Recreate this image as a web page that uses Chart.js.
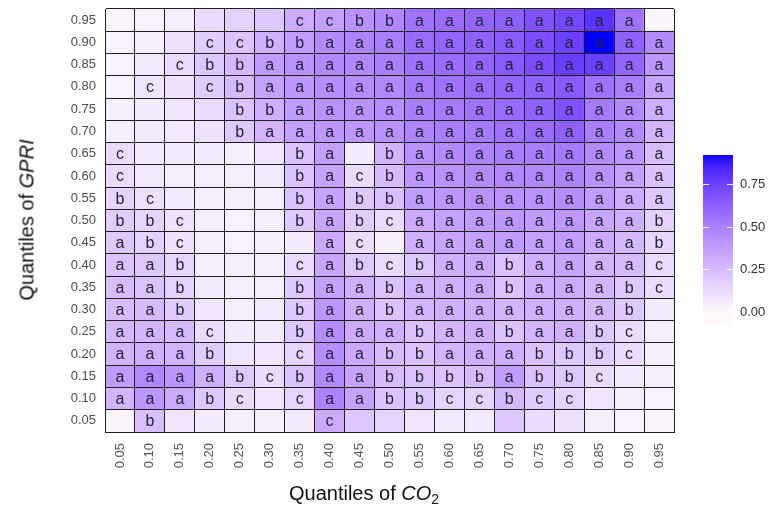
<!DOCTYPE html>
<html><head><meta charset="utf-8">
<script src="https://cdn.jsdelivr.net/npm/chart.js@4"></script>
<style>
html,body{margin:0;padding:0;background:#fff;}
#wrap{position:relative;width:771px;height:516px;overflow:hidden;}
canvas{position:absolute;left:0;top:0;}
.xt{position:absolute;left:289px;top:482px;font:20px "Liberation Sans",Arial,sans-serif;color:#111;white-space:nowrap;}
.xt sub{font-size:14px;vertical-align:-4px;line-height:0;}
.yt{position:absolute;left:27px;top:220px;font:20px "Liberation Sans",Arial,sans-serif;color:#111;white-space:nowrap;transform:translate(-50%,-50%) rotate(-90deg);}
</style></head><body>
<div id="wrap"><canvas id="c" width="771" height="516"></canvas>
<div class="xt">Quantiles of <i>CO</i><sub>2</sub></div>
<div class="yt">Quantiles of <i>GPRI</i></div>
</div>
<script>
const xLabels = ['0.05','0.10','0.15','0.20','0.25','0.30','0.35','0.40','0.45','0.50','0.55','0.60','0.65','0.70','0.75','0.80','0.85','0.90','0.95'];
const yLabels = ['0.05','0.10','0.15','0.20','0.25','0.30','0.35','0.40','0.45','0.50','0.55','0.60','0.65','0.70','0.75','0.80','0.85','0.90','0.95'];
const legendTicks = [0, 0.25, 0.5, 0.75];

// cell values per GPRI quantile row (columns follow xLabels)
const v95 = [0.02,0.03,0.05,0.12,0.16,0.20,0.32,0.36,0.42,0.46,0.55,0.58,0.60,0.62,0.68,0.72,0.80,0.55,0.01];
const v90 = [0.03,0.05,0.10,0.18,0.22,0.30,0.38,0.45,0.48,0.50,0.58,0.60,0.62,0.65,0.70,0.75,0.92,0.62,0.45];
const v85 = [0.03,0.06,0.12,0.20,0.26,0.38,0.42,0.46,0.46,0.50,0.55,0.58,0.60,0.65,0.70,0.76,0.75,0.60,0.40];
const v80 = [0.03,0.08,0.10,0.18,0.25,0.36,0.40,0.44,0.44,0.46,0.52,0.55,0.58,0.60,0.62,0.65,0.55,0.50,0.35];
const v75 = [0.04,0.06,0.08,0.12,0.22,0.30,0.38,0.42,0.42,0.44,0.50,0.52,0.55,0.58,0.62,0.68,0.52,0.45,0.30];
const v70 = [0.04,0.06,0.07,0.10,0.20,0.28,0.36,0.40,0.40,0.42,0.48,0.50,0.52,0.55,0.58,0.62,0.50,0.45,0.28];
const v65 = [0.12,0.06,0.06,0.06,0.05,0.08,0.22,0.36,0.06,0.28,0.42,0.45,0.48,0.50,0.50,0.52,0.45,0.40,0.24];
const v60 = [0.12,0.06,0.05,0.05,0.04,0.06,0.22,0.35,0.12,0.25,0.40,0.42,0.45,0.46,0.46,0.48,0.42,0.36,0.22];
const v55 = [0.15,0.10,0.06,0.05,0.04,0.05,0.22,0.35,0.20,0.24,0.38,0.40,0.42,0.42,0.42,0.44,0.38,0.32,0.20];
const v50 = [0.18,0.15,0.10,0.05,0.03,0.05,0.20,0.34,0.18,0.12,0.32,0.36,0.38,0.40,0.38,0.40,0.34,0.30,0.16];
const v45 = [0.20,0.16,0.10,0.04,0.03,0.04,0.06,0.32,0.12,0.05,0.30,0.34,0.36,0.38,0.36,0.38,0.32,0.26,0.15];
const v40 = [0.22,0.20,0.15,0.05,0.04,0.05,0.12,0.34,0.20,0.12,0.20,0.30,0.32,0.22,0.30,0.34,0.28,0.25,0.12];
const v35 = [0.24,0.22,0.16,0.06,0.04,0.05,0.20,0.36,0.30,0.22,0.28,0.30,0.32,0.22,0.30,0.32,0.28,0.20,0.12];
const v30 = [0.25,0.25,0.18,0.08,0.05,0.06,0.20,0.40,0.30,0.22,0.28,0.30,0.30,0.28,0.30,0.30,0.26,0.20,0.06];
const v25 = [0.26,0.28,0.25,0.12,0.06,0.06,0.20,0.44,0.32,0.30,0.22,0.28,0.30,0.22,0.28,0.30,0.20,0.12,0.05];
const v20 = [0.28,0.30,0.28,0.18,0.08,0.08,0.15,0.44,0.32,0.25,0.22,0.28,0.30,0.30,0.22,0.20,0.18,0.12,0.05];
const v15 = [0.38,0.46,0.40,0.30,0.20,0.12,0.22,0.46,0.35,0.25,0.22,0.22,0.25,0.38,0.22,0.20,0.12,0.06,0.04];
const v10 = [0.28,0.40,0.32,0.20,0.12,0.08,0.15,0.48,0.35,0.22,0.20,0.15,0.15,0.26,0.18,0.15,0.08,0.05,0.03];
const v05 = [0.02,0.24,0.08,0.06,0.04,0.04,0.06,0.32,0.20,0.15,0.08,0.06,0.06,0.20,0.12,0.10,0.04,0.03,0.02];

// significance letters per row
const g95 = ['','','','','','','c','c','b','b','a','a','a','a','a','a','a','a',''];
const g90 = ['','','','c','c','b','b','a','a','a','a','a','a','a','a','a','a','a','a'];
const g85 = ['','','c','b','b','a','a','a','a','a','a','a','a','a','a','a','a','a','a'];
const g80 = ['','c','','c','b','a','a','a','a','a','a','a','a','a','a','a','a','a','a'];
const g75 = ['','','','','b','b','a','a','a','a','a','a','a','a','a','a','a','a','a'];
const g70 = ['','','','','b','a','a','a','a','a','a','a','a','a','a','a','a','a','a'];
const g65 = ['c','','','','','','b','a','','b','a','a','a','a','a','a','a','a','a'];
const g60 = ['c','','','','','','b','a','c','b','a','a','a','a','a','a','a','a','a'];
const g55 = ['b','c','','','','','b','a','b','b','a','a','a','a','a','a','a','a','a'];
const g50 = ['b','b','c','','','','b','a','b','c','a','a','a','a','a','a','a','a','b'];
const g45 = ['a','b','c','','','','','a','c','','a','a','a','a','a','a','a','a','b'];
const g40 = ['a','a','b','','','','c','a','b','c','b','a','a','b','a','a','a','a','c'];
const g35 = ['a','a','b','','','','b','a','a','b','a','a','a','b','a','a','a','b','c'];
const g30 = ['a','a','b','','','','b','a','a','b','a','a','a','a','a','a','a','b',''];
const g25 = ['a','a','a','c','','','b','a','a','a','b','a','a','b','a','a','b','c',''];
const g20 = ['a','a','a','b','','','c','a','a','b','b','a','a','a','b','b','b','c',''];
const g15 = ['a','a','a','a','b','c','b','a','a','b','b','b','b','a','b','b','c','',''];
const g10 = ['a','a','a','b','c','','c','a','a','b','b','c','c','b','c','c','','',''];
const g05 = ['','b','','','','','','c','','','','','','','','','','',''];

const rowValues = [v05,v10,v15,v20,v25,v30,v35,v40,v45,v50,v55,v60,v65,v70,v75,v80,v85,v90,v95];
const rowLetters = [g05,g10,g15,g20,g25,g30,g35,g40,g45,g50,g55,g60,g65,g70,g75,g80,g85,g90,g95];

const CMIN = 0, CMAX = 0.92;
// Lab interpolation white -> blue (ggplot-like)
function srgb2lin(c){c/=255;return c<=0.04045?c/12.92:Math.pow((c+0.055)/1.055,2.4);}
function lin2srgb(c){c=Math.max(0,Math.min(1,c));return Math.round(255*(c<=0.0031308?12.92*c:1.055*Math.pow(c,1/2.4)-0.055));}
function rgb2lab(r,g,b){r=srgb2lin(r);g=srgb2lin(g);b=srgb2lin(b);
 let X=(0.4124*r+0.3576*g+0.1805*b)/0.95047,Y=(0.2126*r+0.7152*g+0.0722*b),Z=(0.0193*r+0.1192*g+0.9505*b)/1.08883;
 const f=t=>t>0.008856?Math.cbrt(t):7.787*t+16/116; const fx=f(X),fy=f(Y),fz=f(Z);
 return [116*fy-16,500*(fx-fy),200*(fy-fz)];}
function lab2rgb(L,a,b){const fy=(L+16)/116,fx=fy+a/500,fz=fy-b/200;
 const fi=t=>t*t*t>0.008856?t*t*t:(t-16/116)/7.787;
 const X=fi(fx)*0.95047,Y=fi(fy),Z=fi(fz)*1.08883;
 const r=3.2406*X-1.5372*Y-0.4986*Z,g=-0.9689*X+1.8758*Y+0.0415*Z,bb=0.0557*X-0.2040*Y+1.0570*Z;
 return [lin2srgb(r),lin2srgb(g),lin2srgb(bb)];}
const LOW = rgb2lab(253,249,252), HIGH = rgb2lab(0,0,255);
function colorFor(v){let t=(v-CMIN)/(CMAX-CMIN);t=Math.max(0,Math.min(1,t));
 const c=lab2rgb(LOW[0]+(HIGH[0]-LOW[0])*t,LOW[1]+(HIGH[1]-LOW[1])*t,LOW[2]+(HIGH[2]-LOW[2])*t);
 return 'rgb('+c[0]+','+c[1]+','+c[2]+')';}

const datasets = rowValues.map((vals,i)=>({
  data: xLabels.map(()=>[i-0.5,i+0.5]),
  backgroundColor: vals.map(colorFor),
  borderWidth: 0,
  grouped: false,
  barPercentage: 1,
  categoryPercentage: 1
}));

const FONT = '"Liberation Sans", Arial, sans-serif';

const letterPlugin = {
  id:'letters',
  afterDatasetsDraw(chart){
    const ctx=chart.ctx; ctx.save();
    ctx.font='16px '+FONT; ctx.fillStyle='#24243a'; ctx.textAlign='center'; ctx.textBaseline='middle';
    rowLetters.forEach((row,i)=>{
      const meta=chart.getDatasetMeta(i);
      row.forEach((t,j)=>{ if(!t) return; const el=meta.data[j];
        ctx.fillText(t, el.x, (el.y+el.base)/2+1); });
    });
    ctx.restore();
  }
};

const colorbarPlugin = {
  id:'colorbar',
  afterDraw(chart){
    const ctx=chart.ctx; ctx.save();
    const x0=703, w=30, yTop=155, yZero=312, yBot=326;
    const pxPer=(yZero-yTop)/CMAX;
    for(let y=yTop;y<yBot;y++){
      const v=(yZero-(y+0.5))/pxPer;
      ctx.fillStyle=colorFor(v); ctx.fillRect(x0,y,w,1);
    }
    ctx.strokeStyle='rgba(255,255,255,0.9)'; ctx.lineWidth=1;
    ctx.font='13px '+FONT; ctx.fillStyle='#333'; ctx.textAlign='left'; ctx.textBaseline='middle';
    legendTicks.forEach(v=>{
      const y=Math.round(yZero-v*pxPer)+0.5;
      ctx.beginPath(); ctx.moveTo(x0,y); ctx.lineTo(x0+6,y); ctx.moveTo(x0+w-6,y); ctx.lineTo(x0+w,y); ctx.stroke();
      ctx.fillText(v.toFixed(2), x0+w+7, y);
    });
    ctx.restore();
  }
};

new Chart(document.getElementById('c'), {
  type:'bar',
  data:{labels:xLabels, datasets},
  options:{
    responsive:false, animation:false,
    layout:{padding:{left:0,top:9,right:97,bottom:0}},
    plugins:{legend:{display:false}, tooltip:{enabled:false}},
    scales:{
      x:{type:'category', offset:true,
        grid:{offset:true, color:'#1e1e1e', lineWidth:1, drawTicks:false, z:1},
        border:{display:true, color:'#1e1e1e', z:1},
        ticks:{autoSkip:false, minRotation:90, maxRotation:90, padding:11, color:'#555', font:{size:13, family:FONT}},
        afterFit:s=>{s.height=84; s.paddingLeft=0; s.paddingRight=0;}
      },
      y:{type:'linear', min:-0.5, max:18.5,
        afterBuildTicks:s=>{s.ticks=yLabels.map((_,i)=>({value:i}));},
        grid:{offset:true, color:'#1e1e1e', lineWidth:1, drawTicks:false, z:1},
        border:{display:true, color:'#1e1e1e', z:1},
        ticks:{padding:9, color:'#4d4d4d', font:{size:13, family:FONT}, callback:v=>yLabels[v]},
        afterFit:s=>{s.width=105; s.paddingTop=0; s.paddingBottom=0;}
      }
    }
  },
  plugins:[letterPlugin, colorbarPlugin]
});
</script>
</body></html>
